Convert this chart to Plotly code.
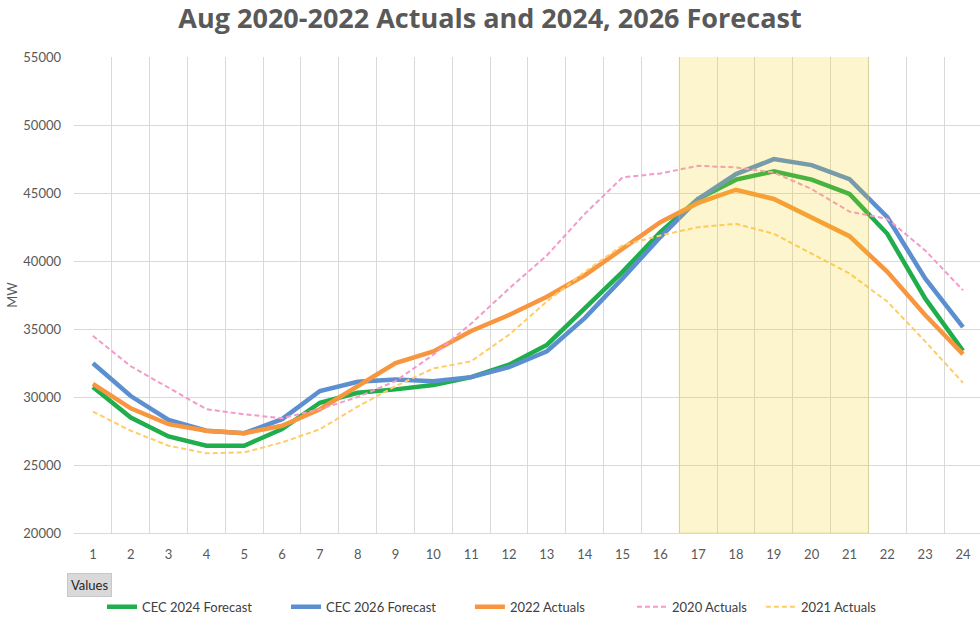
import plotly.graph_objects as go

hours = [str(h) for h in range(1, 25)]

cec_2024 = [30730, 28490, 27100, 26420, 26420, 27640, 29580, 30310, 30560, 30880, 31460, 32380,
            33830, 36520, 39200, 42120, 44560, 45980, 46590, 45980, 44930, 42000, 37250, 33400]
cec_2026 = [32480, 30070, 28320, 27520, 27340, 28370, 30440, 31120, 31290, 31150, 31460, 32190,
            33360, 35800, 38720, 41760, 44560, 46390, 47490, 47050, 46020, 43220, 38720, 35130]
act_2022 = [30970, 29170, 28000, 27520, 27340, 27880, 29100, 30800, 32500, 33350, 34850, 36030,
            37370, 38950, 40900, 42850, 44270, 45240, 44560, 43220, 41830, 39200, 36030, 33150]
act_2020 = [34500, 32260, 30680, 29100, 28730, 28440, 29100, 30000, 31170, 33110, 35400, 37970,
            40410, 43460, 46150, 46440, 47000, 46880, 46510, 45290, 43630, 43100, 40780, 37850]
act_2021 = [28930, 27520, 26420, 25860, 25930, 26660, 27630, 29300, 30800, 32100, 32630, 34580,
            37020, 39200, 41150, 41880, 42490, 42730, 42000, 40540, 39080, 37020, 34090, 31050]

band_start, band_end = "17", "21"

title_text = "Aug 2020-2022 Actuals and 2024, 2026 Forecast"
FONT = "Lato, 'Liberation Sans', Arial, sans-serif"
TITLE_FONT = "'Open Sans', Lato, Arial, sans-serif"
GRID = "#d9d9d9"
TXT = "#595959"

series = [
    ("CEC 2024 Forecast", cec_2024, "#1fae4b", 4.5, "solid"),
    ("CEC 2026 Forecast", cec_2026, "#5b8fd0", 4.5, "solid"),
    ("2022 Actuals", act_2022, "#f8963f", 4.5, "solid"),
    ("2020 Actuals", act_2020, "#f49ac8", 2, "5px,3px"),
    ("2021 Actuals", act_2021, "#ffcc66", 2, "5px,3px"),
]
legend_x = [0.0309, 0.2340, 0.4370, 0.6159, 0.7582]

fig = go.Figure()
legend_layout = {}
for i, (name, vals, color, w, dash) in enumerate(series):
    key = "legend" if i == 0 else f"legend{i + 1}"
    fig.add_trace(go.Scatter(x=hours, y=vals, name=name, mode="lines", legend=key,
                             line=dict(color=color, width=w, dash=dash)))
    legend_layout[key] = dict(orientation="h", x=legend_x[i], xanchor="left", y=-0.155,
                              yanchor="middle", bgcolor="rgba(0,0,0,0)",
                              font=dict(family=FONT, size=13, color="#404040"))

i0 = hours.index(band_start) - 0.5
i1 = hours.index(band_end) + 0.5
fig.add_shape(type="rect", xref="x", yref="y", x0=i0, x1=i1, y0=20000, y1=55200,
              fillcolor="rgba(240,205,10,0.2)", line=dict(color="rgba(220,190,90,0.4)", width=1),
              layer="above")

fig.add_annotation(text="Values", xref="paper", yref="paper", x=-0.008, y=-0.109,
                   xanchor="left", yanchor="middle", showarrow=False,
                   font=dict(family=FONT, size=13, color="#262626"),
                   bgcolor="#d9d9d9", bordercolor="#c8c8c8", borderwidth=1, borderpad=3)

fig.update_layout(
    width=980, height=622,
    margin=dict(l=74, r=0, t=57, b=86),
    paper_bgcolor="white", plot_bgcolor="white",
    title=dict(text=title_text, x=0.5, xref="container", xanchor="center", y=0.97, yanchor="middle",
               font=dict(family=TITLE_FONT, size=27, color=TXT, weight="bold")),
    font=dict(family=FONT, size=13, color=TXT),
    showlegend=True,
    xaxis=dict(type="category", range=[-0.5, 23.45], tickson="boundaries", showgrid=True,
               gridcolor=GRID, gridwidth=1, showline=True, linecolor=GRID, ticks="",
               ticklabelstandoff=9, tickfont=dict(size=13, color=TXT), fixedrange=True),
    yaxis=dict(range=[20000, 55000], dtick=5000, tickformat="d", showgrid=True, gridcolor=GRID,
               gridwidth=1, zeroline=False, ticks="", ticklabelstandoff=12,
               title=dict(text="MW", font=dict(size=13, color=TXT), standoff=2),
               tickfont=dict(size=13, color=TXT)),
    **legend_layout,
)

fig.write_html("out.html", config={"displayModeBar": False},
               post_script="document.body.style.margin='0';")
